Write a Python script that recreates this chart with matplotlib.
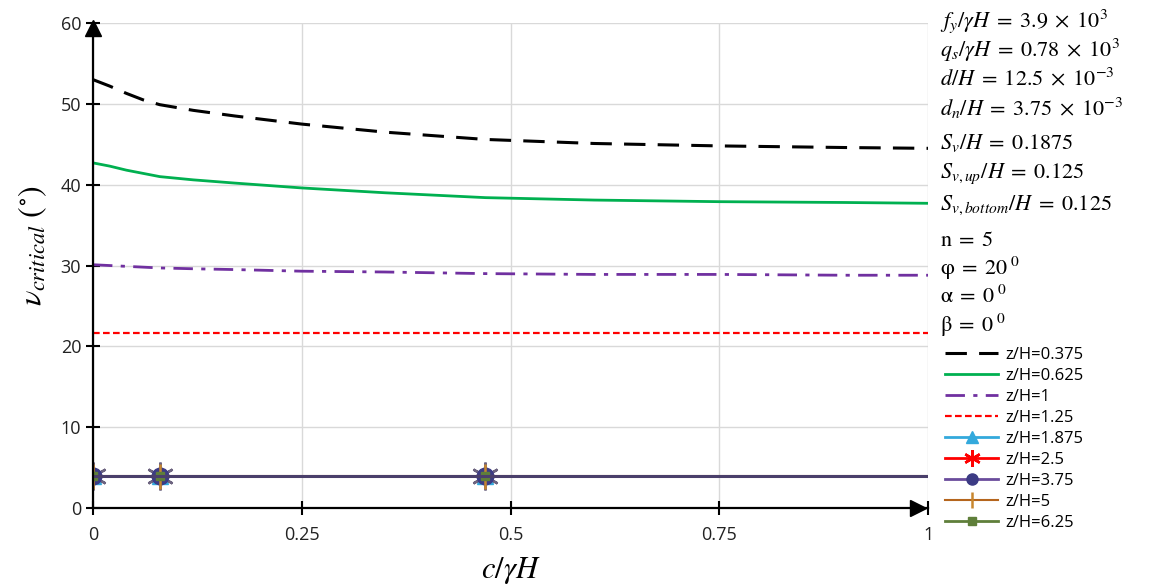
import matplotlib
matplotlib.use("Agg")
import matplotlib.pyplot as plt

plt.rcParams['mathtext.fontset'] = 'stix'
plt.rcParams['font.family'] = ['Open Sans', 'DejaVu Sans']

# ---------------- DATA ----------------
c_upper = [0, 0.02, 0.04, 0.06, 0.08, 0.12, 0.17, 0.25, 0.35, 0.47, 0.6, 0.75, 0.9, 1]
v_0375 = [53.0, 52.2, 51.3, 50.5, 49.9, 49.2, 48.5, 47.5, 46.5, 45.6, 45.1, 44.8, 44.6, 44.5]
v_0625 = [42.7, 42.3, 41.8, 41.4, 41.0, 40.6, 40.2, 39.6, 39.0, 38.4, 38.1, 37.9, 37.8, 37.7]
v_1 = [30.1, 30.0, 29.9, 29.8, 29.7, 29.6, 29.5, 29.3, 29.2, 29.0, 28.9, 28.9, 28.8, 28.8]
v_125 = [21.7, 21.7, 21.7, 21.7, 21.7, 21.7, 21.7, 21.7, 21.7, 21.7, 21.7, 21.7, 21.7, 21.7]

c_lower = [0, 0.08, 0.47, 1]
v_lower = [4.0, 4.0, 4.0, 4.0]
lower_labels = ["z/H=1.875", "z/H=2.5", "z/H=3.75", "z/H=5", "z/H=6.25"]

x_ticks = [0, 0.25, 0.5, 0.75, 1]
x_ticklabels = ["0", "0.25", "0.5", "0.75", "1"]
y_ticks = [0, 10, 20, 30, 40, 50, 60]

params = [r"$f_y/\gamma H\;=\;3.9\;\times\;10^3$",
          r"$q_s/\gamma H\;=\;0.78\;\times\;10^3$",
          r"$d/H\;=\;12.5\;\times\;10^{-3}$",
          r"$d_n/H\;=\;3.75\;\times\;10^{-3}$",
          r"$S_v/H\;=\;0.1875$",
          r"$S_{v,up}/H\;=\;0.125$",
          r"$S_{v,bottom}/H\;=\;0.125$",
          r"$\mathrm{n}\;=\;5$",
          r"$\mathrm{\varphi}\;=\;20^{\ 0}$",
          r"$\mathrm{\alpha}\;=\;0^{\ 0}$",
          r"$\mathrm{\beta}\;=\;0^{\ 0}$"]
# vertical pixel rows of the parameter lines
param_rows = [21, 50, 79, 108, 143, 174, 205, 240, 268, 297, 325]

# ---------------- FIGURE ----------------
W, H = 1155, 585
fig = plt.figure(figsize=(W / 100, H / 100), dpi=100)
ax = fig.add_axes([0.0805, 0.1316, 0.723, 0.829])

ax.plot(c_upper, v_0375, color='black', lw=2.2, dashes=(7, 4), label="z/H=0.375")
ax.plot(c_upper, v_0625, color='#00b050', lw=2, label="z/H=0.625")
ax.plot(c_upper, v_1, color='#7030a0', lw=2, dashes=(7, 3, 1.5, 3), label="z/H=1")
ax.plot(c_upper, v_125, color='#ff0000', lw=1.6, dashes=(3, 1.5), label="z/H=1.25")

# lower series (all at the same level, markers overlap)
mk = [0, 1, 2]
ax.plot(c_lower, v_lower, color='#33a9dc', lw=2, marker='^', ms=11,
        markevery=mk, label=lower_labels[0])
ax.plot(c_lower, v_lower, color='#ff0000', lw=2, marker=(6, 2, 0), ms=20,
        mec='#6d6480', mew=1.8, markevery=mk, label=lower_labels[1])
ax.plot(c_lower, v_lower, color='#6a4c9c', lw=2, marker='o', ms=12,
        mfc='#3c3b84', mec='#3c3b84', markevery=mk, label=lower_labels[2])
ax.plot(c_lower, v_lower, color='#b5651d', lw=1.5, marker='|', ms=18,
        mew=1.8, mec='#c8862e', markevery=mk, label=lower_labels[3])
ax.plot(c_lower, v_lower, color='#5f7f3a', lw=2, marker='s', ms=6,
        markevery=mk, label=lower_labels[4])
ax.plot(c_lower, v_lower, color='#4a3f6b', lw=2.2)

# ---------------- AXES ----------------
ax.set_xlim(0, 1)
ax.set_ylim(0, 60)
ax.set_xticks(x_ticks)
ax.set_xticklabels(x_ticklabels)
ax.set_yticks(y_ticks)
ax.grid(True, color='#d9d9d9', lw=1)
ax.set_axisbelow(True)
for s in ['top', 'right']:
    ax.spines[s].set_visible(False)
for s in ['left', 'bottom']:
    ax.spines[s].set_linewidth(1.6)
ax.tick_params(direction='inout', length=10, width=1.5, labelsize=13,
               labelcolor='#222222')
ax.tick_params(axis='x', pad=8)

# axis arrows
ax.plot(0, 0.99, "^k", ms=11, transform=ax.get_xaxis_transform(), clip_on=False)
ax.plot(0.988, 0, ">k", ms=11, transform=ax.get_yaxis_transform(), clip_on=False)

ax.set_xlabel(r"$c/\gamma H$", fontsize=22, labelpad=8)
ax.set_ylabel(r"$\nu_{critical}\ (^{\circ})$", fontsize=23)
ax.yaxis.set_label_coords(-0.052, 0.54)

# parameter text
for t, r in zip(params, param_rows):
    fig.text(940 / W, 1 - r / H, t, fontsize=16, va='center', ha='left')

leg = ax.legend(loc='upper left', bbox_to_anchor=(945 / W, 1 - 347 / H),
                bbox_transform=fig.transFigure, frameon=False, fontsize=12,
                handlelength=3.2, handletextpad=0.4, labelspacing=0.3,
                borderaxespad=0, borderpad=0)
for h, s in zip(leg.legend_handles[4:], [8, 12, 8, 11, 6]):
    h.set_markersize(s)
leg.legend_handles[5].set_markeredgecolor('#ff0000')

fig.savefig("out.png", dpi=100)
